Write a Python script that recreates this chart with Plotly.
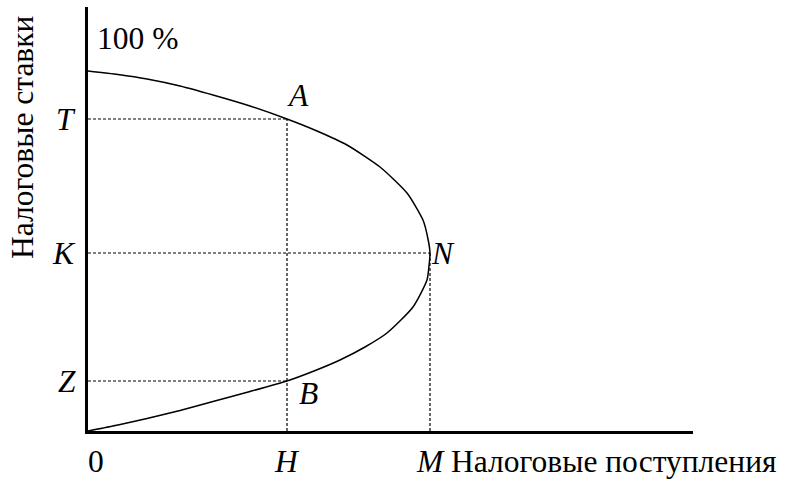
import plotly.graph_objects as go

# Laffer curve points (revenue x, tax rate y)
curve_x = [0, 30, 59, 92, 125, 162, 199, 229, 259, 292, 319, 335, 340, 342,
           341, 339, 325, 299, 277, 252, 226, 199, 162, 125, 92, 59, 30, 0]
curve_y = [360, 356.5, 352, 345, 336, 325, 312, 300, 286, 264, 238, 211, 192, 178,
           165, 151, 124, 98, 84, 71, 60, 50, 39.5, 29.5, 20.5, 12.5, 6, 0]

# key levels
rate_labels = ["T", "K", "Z"]
rate_values = [312, 178, 50]
rev_labels = ["0", "H", "M"]
rev_values = [0, 199, 342]
point_labels = ["A", "N", "B"]
point_x = [199, 342, 199]
point_y = [312, 178, 50]

x_max = 605
y_max = 424

FONT = "'Liberation Serif', 'Times New Roman', serif"
FS = 31.5

fig = go.Figure()

fig.add_trace(go.Scatter(x=curve_x, y=curve_y, mode="lines",
                         line=dict(color="black", width=1.5, shape="spline", smoothing=0.6),
                         hoverinfo="skip", showlegend=False))

dash = "3px,2px"
for px, py in zip(point_x, point_y):
    fig.add_trace(go.Scatter(x=[0, px], y=[py, py], mode="lines",
                             line=dict(color="black", width=1.2, dash=dash),
                             hoverinfo="skip", showlegend=False))
fig.add_trace(go.Scatter(x=[point_x[0], point_x[0]], y=[0, point_y[0]], mode="lines",
                         line=dict(color="black", width=1.2, dash=dash),
                         hoverinfo="skip", showlegend=False))
fig.add_trace(go.Scatter(x=[point_x[1], point_x[1]], y=[0, point_y[1]], mode="lines",
                         line=dict(color="black", width=1.2, dash=dash),
                         hoverinfo="skip", showlegend=False))

annotations = []
for lab, v in zip(rate_labels, rate_values):
    annotations.append(dict(x=0, y=v, xref="x", yref="y", text=f"<i>{lab}</i>",
                            showarrow=False, xanchor="right", yanchor="middle", xshift=-10,
                            font=dict(family=FONT, size=FS, color="black")))
for lab, v in zip(rev_labels, rev_values):
    txt = lab if lab == "0" else f"<i>{lab}</i>"
    annotations.append(dict(x=v, y=0, xref="x", yref="y", text=txt,
                            showarrow=False, xanchor="center", yanchor="middle",
                            xshift=(8 if lab == "0" else 0), yshift=-30,
                            font=dict(family=FONT, size=FS, color="black")))
offsets = {"A": (11, 24), "N": (13, 0), "B": (21, -12)}
for lab, px, py in zip(point_labels, point_x, point_y):
    dx, dy = offsets[lab]
    annotations.append(dict(x=px, y=py, xref="x", yref="y", text=f"<i>{lab}</i>",
                            showarrow=False, xanchor="center", yanchor="middle",
                            xshift=dx, yshift=dy,
                            font=dict(family=FONT, size=FS, color="black")))
annotations.append(dict(x=0, y=y_max, xref="x", yref="y", text="100 %",
                        showarrow=False, xanchor="left", yanchor="middle",
                        xshift=7, yshift=-31,
                        font=dict(family=FONT, size=FS, color="black")))
annotations.append(dict(x=0, y=0, xref="x", yref="y", text="Налоговые поступления",
                        showarrow=False, xanchor="left", yanchor="middle",
                        xshift=361, yshift=-30,
                        font=dict(family=FONT, size=FS, color="black")))
annotations.append(dict(x=0, y=y_max, xref="x", yref="y", text="Налоговые ставки",
                        showarrow=False, xanchor="center", yanchor="middle", textangle=-90,
                        xshift=-66, yshift=-130,
                        font=dict(family=FONT, size=FS, color="black")))

fig.update_layout(
    width=807, height=481,
    margin=dict(l=88, r=114, t=7, b=50),
    paper_bgcolor="white", plot_bgcolor="white",
    font=dict(family=FONT, color="black"),
    xaxis=dict(range=[0, x_max], showgrid=False, zeroline=False, showticklabels=False,
               ticks="", showline=True, linecolor="black", linewidth=2.5, fixedrange=True),
    yaxis=dict(range=[0, y_max], showgrid=False, zeroline=False, showticklabels=False,
               ticks="", showline=True, linecolor="black", linewidth=2.5, fixedrange=True),
    annotations=annotations,
    showlegend=False,
)

fig.write_html("out.html", post_script="document.body.style.margin='0px';",
               config={"displayModeBar": False})
